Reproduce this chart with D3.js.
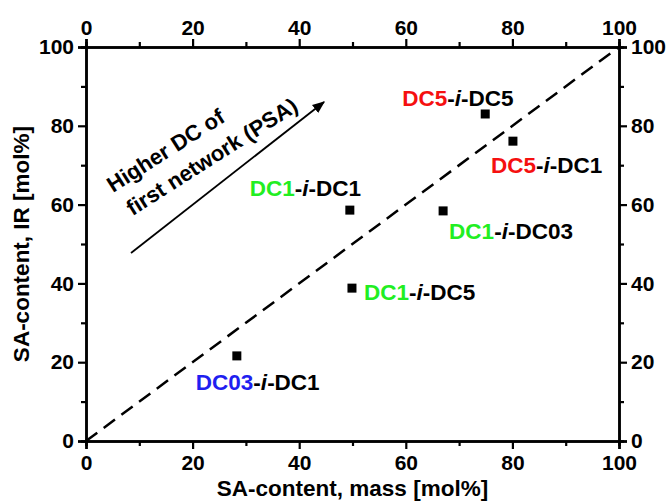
<!DOCTYPE html>
<html>
<head>
<meta charset="utf-8">
<script src="https://cdn.jsdelivr.net/npm/d3@7"></script>
<style>
  body { margin: 0; background: #fff; }
  svg { display: block; font-family: "Liberation Sans", Arial, sans-serif; font-weight: bold; }
  .tick text { font-size: 21px; font-weight: bold; font-family: "Liberation Sans Narrow", "Liberation Sans", Arial, sans-serif; }
</style>
</head>
<body>
<svg id="chart" width="671" height="501"></svg>
<script>
// samples: SA content from mass vs. from IR
const names    = ['DC03-i-DC1', 'DC1-i-DC5', 'DC1-i-DC1', 'DC1-i-DC03', 'DC5-i-DC5', 'DC5-i-DC1'];
const massPct  = [28.3, 49.9, 49.5, 67.0, 74.9, 80.1];
const irPct    = [21.6, 38.8, 58.6, 58.4, 83.0, 76.1];
const firstNet = ['DC03', 'DC1', 'DC1', 'DC1', 'DC5', 'DC5'];
const secondNet = ['DC1', 'DC5', 'DC1', 'DC03', 'DC5', 'DC1'];
const majorTicks = [0, 20, 40, 60, 80, 100];

const netColor = { DC03: '#1f1ff0', DC1: '#22ee22', DC5: '#f51010' };
// label offset from the marker, px
const labelOffset = [[-41, 34], [12, 12], [-100, -14], [6, 28], [-83, -8], [-22, 32]];

const W = 671, H = 501;
const m = { left: 86, right: 52, top: 47, bottom: 60 };
const svg = d3.select('#chart');

const x = d3.scaleLinear().domain([0, 100]).range([m.left, W - m.right]);
const y = d3.scaleLinear().domain([0, 100]).range([H - m.bottom, m.top]);

function drawAxis(axisFn, scale, transform, pad) {
  const minor = axisFn(scale).tickValues(d3.range(10, 100, 20)).tickSize(5).tickFormat('');
  const major = axisFn(scale).tickValues(majorTicks).tickSize(8).tickPadding(pad).tickFormat(d3.format('d'));
  const g1 = svg.append('g').attr('transform', transform).call(minor);
  const g2 = svg.append('g').attr('transform', transform).call(major);
  [g1, g2].forEach(g => {
    g.selectAll('.domain').attr('stroke', '#000').attr('stroke-width', 2.5);
    g.selectAll('.tick line').attr('stroke', '#000').attr('stroke-width', 2.2);
  });
}

drawAxis(d3.axisBottom, x, `translate(0,${y(0)})`, 6);
drawAxis(d3.axisTop, x, `translate(0,${y(100)})`, 4);
drawAxis(d3.axisLeft, y, `translate(${x(0)},0)`, 4);
drawAxis(d3.axisRight, y, `translate(${x(100)},0)`, 4);

// diagonal reference line
svg.append('line')
  .attr('x1', x(0)).attr('y1', y(0))
  .attr('x2', x(100)).attr('y2', y(100))
  .attr('stroke', '#000').attr('stroke-width', 2.5)
  .attr('stroke-dasharray', '14,8');

// markers
svg.append('g').selectAll('rect')
  .data(names)
  .join('rect')
  .attr('x', (d, i) => x(massPct[i]) - 4.5)
  .attr('y', (d, i) => y(irPct[i]) - 4.5)
  .attr('width', 9).attr('height', 9)
  .attr('fill', '#000');

// sample labels
const lab = svg.append('g').selectAll('text')
  .data(names)
  .join('text')
  .attr('x', (d, i) => x(massPct[i]) + labelOffset[i][0])
  .attr('y', (d, i) => y(irPct[i]) + labelOffset[i][1])
  .attr('font-size', 22.5);
lab.append('tspan').attr('fill', (d, i) => netColor[firstNet[i]]).text((d, i) => firstNet[i]);
lab.append('tspan').text('-');
lab.append('tspan').attr('font-style', 'italic').text('i');
lab.append('tspan').text((d, i) => '-' + secondNet[i]);

// axis titles
svg.append('text')
  .attr('x', (m.left + W - m.right) / 2).attr('y', 496)
  .attr('text-anchor', 'middle').attr('font-size', 22.5)
  .text('SA-content, mass [mol%]');
svg.append('text')
  .attr('transform', `translate(29,${(m.top + H - m.bottom) / 2}) rotate(-90)`)
  .attr('text-anchor', 'middle').attr('font-size', 22.5)
  .text('SA-content, IR [mol%]');

// annotation arrow
svg.append('defs').append('marker')
  .attr('id', 'arr').attr('viewBox', '0 0 10 10')
  .attr('refX', 9).attr('refY', 5)
  .attr('markerWidth', 7).attr('markerHeight', 7)
  .attr('orient', 'auto')
  .append('path').attr('d', 'M0,1 L10,5 L0,9 Z').attr('fill', '#000');

svg.append('line')
  .attr('x1', 131).attr('y1', 253).attr('x2', 324).attr('y2', 102)
  .attr('stroke', '#000').attr('stroke-width', 1.8)
  .attr('marker-end', 'url(#arr)');

const ann = svg.append('g').attr('transform', 'translate(113,193) rotate(-32.5)');
ann.append('text').attr('x', 0).attr('y', 0).attr('font-size', 22).text('Higher DC of');
ann.append('text').attr('x', 4).attr('y', 30).attr('font-size', 22).text('first network (PSA)');
</script>
</body>
</html>
